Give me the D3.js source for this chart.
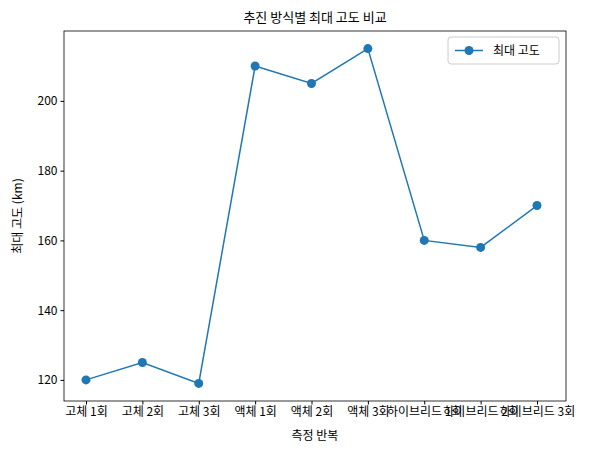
<!DOCTYPE html>
<html><head><meta charset="utf-8">
<script src="https://cdn.jsdelivr.net/npm/d3@7"></script>
<style>body{margin:0;background:#fff}text{font-family:"Noto Sans CJK KR","Noto Sans",sans-serif}</style>
</head><body><svg id="c" width="590" height="454"></svg>
<script>
const categories=["고체 1회","고체 2회","고체 3회","액체 1회","액체 2회","액체 3회","하이브리드 1회","하이브리드 2회","하이브리드 3회"];
const altitude=[120,125,119,210,205,215,160,158,170];
const yTicks=[120,140,160,180,200];
const svg=d3.select("#c");
const L=64,R=566,T=31,B=401,col="#1f77b4";
const x=d3.scaleLinear().domain([0,categories.length-1]).range([86,537]);
const y=d3.scaleLinear().domain([113.95,220.05]).range([B,T]);
const fs="12px";
const xa=svg.append("g").attr("transform",`translate(0,${B})`).call(d3.axisBottom(x).tickValues(d3.range(categories.length)).tickFormat(i=>categories[i]).tickSize(3.5).tickSizeOuter(0));
const ya=svg.append("g").attr("transform",`translate(${L},0)`).call(d3.axisLeft(y).tickValues(yTicks).tickSize(3.5).tickSizeOuter(0));
[xa,ya].forEach(a=>{a.selectAll("text").attr("font-size",fs).attr("fill","#000").style("font-family",'"Noto Sans CJK KR",sans-serif');a.select(".domain").remove();});
svg.append("rect").attr("x",L).attr("y",T).attr("width",R-L).attr("height",B-T).attr("fill","none").attr("stroke","#000").attr("stroke-width",0.8);
svg.append("path").datum(altitude).attr("fill","none").attr("stroke",col).attr("stroke-width",1.5)
 .attr("d",d3.line().x((d,i)=>x(i)).y(d=>y(d)));
svg.selectAll("circle.p").data(altitude).join("circle").attr("cx",(d,i)=>x(i)).attr("cy",d=>y(d)).attr("r",4.5).attr("fill",col);
svg.append("text").attr("x",(L+R)/2).attr("y",22).attr("text-anchor","middle").attr("font-size","13px").text("추진 방식별 최대 고도 비교");
svg.append("text").attr("x",(L+R)/2).attr("y",440).attr("text-anchor","middle").attr("font-size",fs).text("측정 반복");
svg.append("text").attr("transform",`translate(22,${(T+B)/2}) rotate(-90)`).attr("text-anchor","middle").attr("font-size",fs).text("최대 고도 (km)");
const lg=svg.append("g").attr("transform","translate(448,37)");
lg.append("rect").attr("width",111).attr("height",27).attr("rx",3).attr("fill","#fff").attr("stroke","#ccc");
lg.append("line").attr("x1",7).attr("x2",35).attr("y1",13.5).attr("y2",13.5).attr("stroke",col).attr("stroke-width",1.5);
lg.append("circle").attr("cx",21).attr("cy",13.5).attr("r",4.5).attr("fill",col);
lg.append("text").attr("x",45).attr("y",18).attr("font-size",fs).text("최대 고도");
</script></body></html>
